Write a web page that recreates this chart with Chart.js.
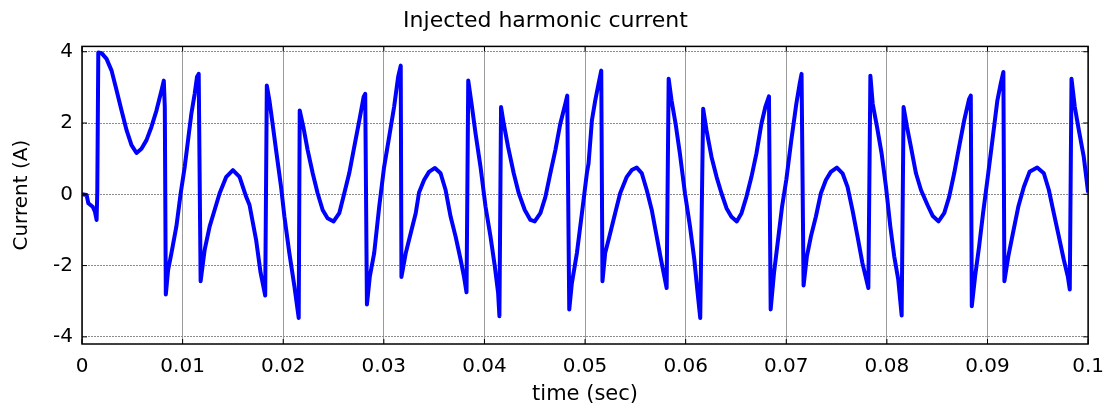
<!DOCTYPE html>
<html>
<head>
<meta charset="utf-8">
<title>Injected harmonic current</title>
<script src="https://cdn.jsdelivr.net/npm/chart.js@4.4.1/dist/chart.umd.min.js"></script>
<style>
  html, body { margin: 0; padding: 0; background: #fff; }
  #wrap { width: 1115px; height: 409px; }
</style>
</head>
<body>
<div id="wrap"><canvas id="harmChart" width="1115" height="409"></canvas></div>
<script>
// ================== DATA ==================
const timeSec = [
  0, 0.00046, 0.00063, 0.00106, 0.00129, 0.00145, 0.00152, 0.00162, 0.00195, 0.00244,
  0.00294, 0.00344, 0.00393, 0.00443, 0.00492, 0.00542, 0.00591, 0.00641, 0.00690, 0.00740,
  0.00790, 0.00813, 0.00823, 0.00833, 0.00856, 0.00889, 0.00938, 0.00981, 0.01021, 0.01054,
  0.01087, 0.01120, 0.01143, 0.01160, 0.01179, 0.01219, 0.01269, 0.01318, 0.01368, 0.01434,
  0.01500, 0.01566, 0.01632,
  0.01665, 0.01730, 0.01775, 0.01821, 0.01837, 0.01863, 0.01890, 0.01929, 0.01979, 0.02012,
  0.02061, 0.02111, 0.02154, 0.02164, 0.02200, 0.02243, 0.02293, 0.02342, 0.02392, 0.02441,
  0.02501, 0.02557, 0.02607, 0.02656, 0.02706, 0.02756, 0.02799, 0.02815, 0.02832, 0.02861,
  0.02904, 0.02954, 0.03003, 0.03053, 0.03102, 0.03142, 0.03168, 0.03175, 0.03218, 0.03267,
  0.03317,
  0.03350, 0.03400, 0.03449, 0.03508, 0.03564, 0.03614, 0.03664, 0.03713, 0.03763, 0.03796,
  0.03822, 0.03839, 0.03872, 0.03912, 0.03961, 0.04011, 0.04060, 0.04103, 0.04136, 0.04149,
  0.04165, 0.04192, 0.04235, 0.04291, 0.04341, 0.04401, 0.04457, 0.04500, 0.04556, 0.04606,
  0.04655, 0.04705, 0.04754, 0.04804, 0.04823, 0.04843, 0.04869, 0.04919, 0.04969, 0.05018,
  0.05035, 0.05068, 0.05101, 0.05134, 0.05161, 0.05173, 0.05200, 0.05250, 0.05299, 0.05349,
  0.05415, 0.05464, 0.05514, 0.05564, 0.05613, 0.05663, 0.05712, 0.05755, 0.05788, 0.05811,
  0.05831, 0.05860, 0.05900, 0.05943, 0.05993, 0.06043, 0.06086, 0.06119, 0.06145, 0.06174,
  0.06207, 0.06257, 0.06307, 0.06356, 0.06406, 0.06455, 0.06508, 0.06555, 0.06604, 0.06654,
  0.06703,
  0.06753, 0.06792, 0.06828, 0.06845, 0.06878, 0.06918, 0.06958, 0.07000, 0.07050,
  0.07100, 0.07133, 0.07152, 0.07172, 0.07205, 0.07245, 0.07294, 0.07344, 0.07394, 0.07443,
  0.07503, 0.07559, 0.07609, 0.07658, 0.07708, 0.07757, 0.07816, 0.07836, 0.07859, 0.07902,
  0.07948, 0.07991, 0.08034, 0.08073, 0.08113, 0.08147, 0.08166, 0.08200, 0.08239, 0.08289,
  0.08339,
  0.08404, 0.08454, 0.08513, 0.08570, 0.08619, 0.08669, 0.08718, 0.08768, 0.08818, 0.08834,
  0.08844, 0.08877, 0.08917, 0.08956, 0.08999, 0.09049, 0.09098, 0.09131, 0.09158, 0.09168,
  0.09207, 0.09253, 0.09306, 0.09362, 0.09418, 0.09494, 0.09560, 0.09610, 0.09659, 0.09709,
  0.09758, 0.09798, 0.09818, 0.09835, 0.09868, 0.09908, 0.09957, 0.09985, 0.1
];

const currentA = [
  0, -0.02, -0.25, -0.35, -0.49, -0.72, 0.07, 3.98, 3.96, 3.80,
  3.47, 2.91, 2.35, 1.80, 1.38, 1.16, 1.28, 1.52, 1.89, 2.35,
  2.91, 3.19, 2.45, -2.81, -2.12, -1.65, -0.90, 0.03, 0.77, 1.52,
  2.26, 2.82, 3.29, 3.38, -2.44, -1.56, -0.90, -0.44, 0.03, 0.49,
  0.68, 0.49, -0.07,
  -0.30, -1.27, -2.20, -2.84, 3.05, 2.63, 2.07, 1.24, 0.20, -0.63,
  -1.65, -2.58, -3.47, 2.35, 1.89, 1.24, 0.59, 0.03, -0.44, -0.67,
  -0.76, -0.53, 0.03, 0.59, 1.33, 2.07, 2.73, 2.82, -3.09, -2.30,
  -1.65, -0.35, 0.77, 1.61, 2.45, 3.29, 3.61, -2.32, -1.65, -1.09,
  -0.53,
  0.05, 0.40, 0.63, 0.74, 0.59, 0.12, -0.63, -1.18, -1.83, -2.30,
  -2.75, 3.19, 2.54, 1.70, 0.77, -0.35, -1.18, -2.02, -2.77, -3.42,
  2.45, 1.98, 1.33, 0.59, 0.03, -0.44, -0.72, -0.76, -0.53, -0.07,
  0.59, 1.24, 1.98, 2.54, 2.77, -3.23, -2.49, -1.65, -0.53, 0.59,
  0.87, 2.07, 2.63, 3.10, 3.47, -2.44, -1.65, -1.09, -0.53, 0.03,
  0.49, 0.68, 0.75, 0.59, 0.12, -0.44, -1.18, -1.83, -2.30, -2.63,
  3.24, 2.63, 1.98, 1.14, 0.03, -0.90, -1.83, -2.77, -3.47, 2.40,
  1.80, 1.05, 0.49, 0.03, -0.39, -0.63, -0.76, -0.53, -0.07, 0.49,
  1.14,
  1.98, 2.45, 2.75, -3.23, -2.21, -1.28, -0.35, 0.40, 1.52,
  2.54, 3.10, 3.38, -2.56, -1.74, -1.18, -0.63, 0.03, 0.40, 0.63,
  0.75, 0.59, 0.21, -0.44, -1.18, -1.93, -2.63, 3.33, 2.54, 1.89,
  1.14, 0.21, -0.90, -1.74, -2.39, -3.40, 2.45, 1.89, 1.33, 0.59,
  0.12,
  -0.30, -0.60, -0.76, -0.53, -0.07, 0.59, 1.33, 2.07, 2.68, 2.77,
  -3.14, -2.30, -1.46, -0.53, 0.40, 1.52, 2.63, 3.10, 3.43, -2.44,
  -1.74, -1.09, -0.35, 0.21, 0.63, 0.75, 0.59, 0.12, -0.53, -1.18,
  -1.83, -2.30, -2.67, 3.24, 2.45, 1.80, 1.05, 0.40, 0.05
];

const xTickValues = [0, 0.01, 0.02, 0.03, 0.04, 0.05, 0.06, 0.07, 0.08, 0.09, 0.1];
const xTickLabels = ["0", "0.01", "0.02", "0.03", "0.04", "0.05", "0.06", "0.07", "0.08", "0.09", "0.1"];
const yTickValues = [-4, -2, 0, 2, 4];
const yTickLabels = ["-4", "-2", "0", "2", "4"];

// ================== AXES BOX (matlab style) ==================
const axesBox = {
  id: "axesBox",
  afterDatasetsDraw(chart) {
    const { ctx, chartArea: a, scales } = chart;
    ctx.save();
    ctx.strokeStyle = "#000";
    ctx.lineWidth = 1;
    ctx.beginPath();
    xTickValues.forEach((v) => {
      const px = scales.x.getPixelForValue(v);
      ctx.moveTo(px, a.bottom);
      ctx.lineTo(px, a.bottom - 5);
      ctx.moveTo(px, a.top);
      ctx.lineTo(px, a.top + 5);
    });
    yTickValues.forEach((v) => {
      const py = scales.y.getPixelForValue(v);
      ctx.moveTo(a.left, py);
      ctx.lineTo(a.left + 5, py);
      ctx.moveTo(a.right, py);
      ctx.lineTo(a.right - 5, py);
    });
    ctx.stroke();
    ctx.lineWidth = 1.5;
    ctx.strokeRect(a.left, a.top, a.right - a.left, a.bottom - a.top);
    ctx.restore();
  },
};

// ================== CHART ==================
Chart.defaults.font.family = "'DejaVu Sans', sans-serif";
Chart.defaults.color = "#000";

const ctx = document.getElementById("harmChart").getContext("2d");

new Chart(ctx, {
  type: "line",
  data: {
    datasets: [
      {
        label: "Injected current",
        data: timeSec.map((t, i) => ({ x: t, y: currentA[i] })),
        borderColor: "#0000ff",
        borderWidth: 4,
        pointRadius: 0,
        tension: 0,
        fill: false,
        borderJoinStyle: "round",
      },
    ],
  },
  options: {
    responsive: false,
    animation: false,
    layout: { padding: { left: 0, right: 24, top: 0, bottom: 0 } },
    plugins: {
      legend: { display: false },
      tooltip: { enabled: false },
      title: {
        display: true,
        text: "Injected harmonic current",
        font: { size: 22, weight: "normal" },
        color: "#000",
        padding: { top: 8, bottom: 12 },
      },
    },
    scales: {
      x: {
        type: "linear",
        min: 0,
        max: 0.1,
        afterBuildTicks: (scale) => {
          scale.ticks = xTickValues.map((v) => ({ value: v }));
        },
        afterFit: (scale) => {
          scale.height = 65;
        },
        ticks: {
          callback: (value, index) => xTickLabels[index],
          font: { size: 20 },
          color: "#000",
          padding: 11,
          maxRotation: 0,
          autoSkip: false,
        },
        grid: {
          color: "#9a9a9a",
          lineWidth: 1,
          drawTicks: false,
        },
        border: { display: false },
        title: {
          display: true,
          text: "time (sec)",
          font: { size: 21 },
          color: "#000",
          padding: { top: 2, bottom: 2 },
        },
      },
      y: {
        type: "linear",
        min: -4.2,
        max: 4.15,
        afterBuildTicks: (scale) => {
          scale.ticks = yTickValues.map((v) => ({ value: v }));
        },
        afterFit: (scale) => {
          scale.width = 82;
        },
        ticks: {
          callback: (value, index) => yTickLabels[index],
          font: { size: 20 },
          color: "#000",
          padding: 9,
        },
        grid: {
          color: "#8c8c8c",
          lineWidth: 1,
          drawTicks: false,
        },
        border: { display: false, dash: [2, 1] },
        title: {
          display: true,
          text: "Current (A)",
          font: { size: 20 },
          color: "#000",
          padding: { top: 10, bottom: 10 },
        },
      },
    },
  },
  plugins: [axesBox],
});
</script>
</body>
</html>
